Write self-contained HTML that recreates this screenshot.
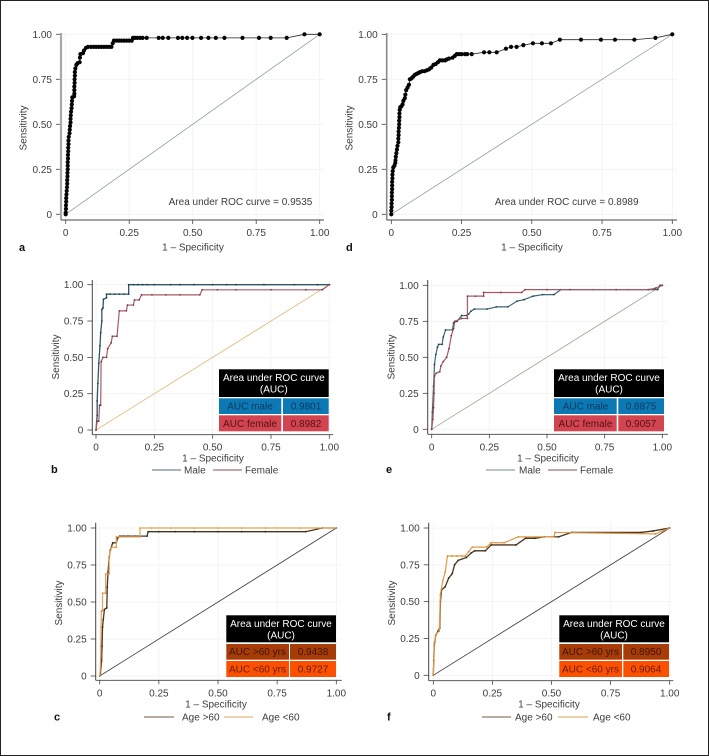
<!DOCTYPE html>
<html lang="en">
<head>
<meta charset="utf-8">
<title>ROC curves</title>
<style>
html,body{margin:0;padding:0;background:#fff;}
svg{display:block;}
text{font-family:"Liberation Sans",Arial,sans-serif;font-size:10px;fill:#3d3d3d;}
.letter{font-weight:bold;font-size:11px;fill:#111;}
.head{fill:#fff;text-anchor:middle;}
.cell{text-anchor:middle;}
.mid{text-anchor:middle;}
</style>
</head>
<body>
<svg id="figure" width="709" height="756" viewBox="0 0 709 756" xmlns="http://www.w3.org/2000/svg">
<rect x="0.5" y="0.5" width="708" height="755" fill="#fff" stroke="#222" stroke-width="1"/>

<g id="panel-a">
  <text class="mid" transform="translate(26.5,128) rotate(-90)">Sensitivity</text>
  <text class="mid" x="193" y="250.5">1 – Specificity</text>
  <text class="mid" x="240.5" y="205">Area under ROC curve = 0.9535</text>
  <text class="letter" x="19" y="251">a</text>
</g>
<g id="panel-d">
  <text class="mid" transform="translate(352.5,128) rotate(-90)">Sensitivity</text>
  <text class="mid" x="532" y="250.5">1 – Specificity</text>
  <text class="mid" x="566.7" y="205">Area under ROC curve = 0.8989</text>
  <text class="letter" x="346" y="251">d</text>
</g>

<g id="panel-b">
  <text class="mid" transform="translate(59,357) rotate(-90)">Sensitivity</text>
  <text class="mid" x="213" y="461.5">1 – Specificity</text>
  <text class="letter" x="51" y="473">b</text>
  <line x1="152" y1="470" x2="181" y2="470" stroke="#4d6b78" stroke-width="0.9"/>
  <text x="184" y="473.5">Male</text>
  <line x1="213" y1="470" x2="242" y2="470" stroke="#8a5058" stroke-width="0.9"/>
  <text x="245" y="473.5">Female</text>
  <g>
    <rect x="219" y="369.3" width="109.7" height="27.7" fill="#000"/>
    <rect x="219" y="398.3" width="62.3" height="15.7" fill="#0c78b4"/>
    <rect x="283" y="398.3" width="45.7" height="15.7" fill="#0c78b4"/>
    <rect x="219" y="415.3" width="62.3" height="16" fill="#d2444f"/>
    <rect x="283" y="415.3" width="45.7" height="16" fill="#d2444f"/>
    <text class="head" x="273.8" y="381">Area under ROC curve</text>
    <text class="head" x="273.8" y="392.5">(AUC)</text>
    <text class="cell" x="250" y="409.5" style="fill:#0b3a5c">AUC male</text>
    <text class="cell" x="306" y="409.5" style="fill:#0b3a5c">0.9801</text>
    <text class="cell" x="250" y="427" style="fill:#551219">AUC female</text>
    <text class="cell" x="306" y="427" style="fill:#551219">0.8982</text>
  </g>
</g>

<g id="panel-e">
  <text class="mid" transform="translate(394.5,357) rotate(-90)">Sensitivity</text>
  <text class="mid" x="548" y="461.5">1 – Specificity</text>
  <text class="letter" x="386" y="473">e</text>
  <line x1="486" y1="470" x2="515" y2="470" stroke="#7c8a88" stroke-width="0.9"/>
  <text x="519" y="473.5">Male</text>
  <line x1="548" y1="470" x2="577" y2="470" stroke="#8a5058" stroke-width="0.9"/>
  <text x="580" y="473.5">Female</text>
  <g>
    <rect x="554" y="369.3" width="110" height="27.7" fill="#000"/>
    <rect x="554" y="398.3" width="62.7" height="15.7" fill="#0c78b4"/>
    <rect x="618.3" y="398.3" width="45.7" height="15.7" fill="#0c78b4"/>
    <rect x="554" y="415.3" width="62.7" height="16" fill="#d2444f"/>
    <rect x="618.3" y="415.3" width="45.7" height="16" fill="#d2444f"/>
    <text class="head" x="609" y="381">Area under ROC curve</text>
    <text class="head" x="609" y="392.5">(AUC)</text>
    <text class="cell" x="585.5" y="409.5" style="fill:#0b3a5c">AUC male</text>
    <text class="cell" x="641" y="409.5" style="fill:#0b3a5c">0.8875</text>
    <text class="cell" x="585.5" y="427" style="fill:#551219">AUC female</text>
    <text class="cell" x="641" y="427" style="fill:#551219">0.9057</text>
  </g>
</g>

<g id="panel-c">
  <text class="mid" transform="translate(62,603) rotate(-90)">Sensitivity</text>
  <text class="mid" x="216" y="707.5">1 – Specificity</text>
  <text class="letter" x="54" y="720.5">c</text>
  <line x1="144" y1="717" x2="174" y2="717" stroke="#6b5a48" stroke-width="0.9"/>
  <text x="182" y="720.5">Age &gt;60</text>
  <line x1="224" y1="717" x2="253" y2="717" stroke="#d9a860" stroke-width="0.9"/>
  <text x="262" y="720.5">Age &lt;60</text>
  <g>
    <rect x="226.3" y="615.3" width="109.7" height="27" fill="#000"/>
    <rect x="226.3" y="644" width="62.7" height="15.7" fill="#a83c08"/>
    <rect x="290" y="644" width="46" height="15.7" fill="#a83c08"/>
    <rect x="226.3" y="661" width="62.7" height="16" fill="#fb5000"/>
    <rect x="290" y="661" width="46" height="16" fill="#fb5000"/>
    <text class="head" x="281" y="627">Area under ROC curve</text>
    <text class="head" x="281" y="638.5">(AUC)</text>
    <text class="cell" x="257.5" y="655" style="fill:#3f1500">AUC &gt;60 yrs</text>
    <text class="cell" x="313" y="655" style="fill:#3f1500">0.9438</text>
    <text class="cell" x="257.5" y="672.5" style="fill:#6b1c00">AUC &lt;60 yrs</text>
    <text class="cell" x="313" y="672.5" style="fill:#6b1c00">0.9727</text>
  </g>
</g>

<g id="panel-f">
  <text class="mid" transform="translate(395,603) rotate(-90)">Sensitivity</text>
  <text class="mid" x="549" y="707.5">1 – Specificity</text>
  <text class="letter" x="387" y="720.5">f</text>
  <line x1="482" y1="717" x2="511" y2="717" stroke="#6b5a48" stroke-width="0.9"/>
  <text x="515" y="720.5">Age &gt;60</text>
  <line x1="558" y1="717" x2="588" y2="717" stroke="#d9a050" stroke-width="0.9"/>
  <text x="593" y="720.5">Age &lt;60</text>
  <g>
    <rect x="559.3" y="615.3" width="109.7" height="27" fill="#000"/>
    <rect x="559.3" y="644" width="62.7" height="15.7" fill="#a83c08"/>
    <rect x="623.3" y="644" width="45.7" height="15.7" fill="#a83c08"/>
    <rect x="559.3" y="661" width="62.7" height="16" fill="#fb5000"/>
    <rect x="623.3" y="661" width="45.7" height="16" fill="#fb5000"/>
    <text class="head" x="614" y="627">Area under ROC curve</text>
    <text class="head" x="614" y="638.5">(AUC)</text>
    <text class="cell" x="590.5" y="655" style="fill:#3f1500">AUC &gt;60 yrs</text>
    <text class="cell" x="646" y="655" style="fill:#3f1500">0.8950</text>
    <text class="cell" x="590.5" y="672.5" style="fill:#6b1c00">AUC &lt;60 yrs</text>
    <text class="cell" x="646" y="672.5" style="fill:#6b1c00">0.9064</text>
  </g>
</g>
</svg>

<script>
const tickValues = [0, 0.25, 0.5, 0.75, 1];
const tickLabels = ['0', '0.25', '0.50', '0.75', '1.00'];

const allFpr = [0,0,.001,.001,.002,.002,.003,.004,.005,.006,.006,.007,.007,.008,.008,.008,.009,.009,.010,.010,.011,.011,.012,.015,.016,.017,.019,.019,.020,.021,.023,.024,.025,.026,.033,.034,.034,.034,.035,.035,.036,.036,.038,.042,.047,.055,.056,.058,.068,.072,.080,.088,.10,.11,.12,.13,.14,.15,.16,.17,.18,.185,.19,.20,.21,.22,.23,.24,.25,.26,.265,.273,.282,.293,.303,.319,.366,.382,.404,.442,.459,.478,.499,.533,.562,.591,.625,.696,.761,.807,.870,.94,1];
const allTpr = [0,.01,.03,.05,.07,.09,.11,.13,.15,.17,.19,.21,.23,.25,.27,.29,.31,.33,.35,.37,.39,.41,.43,.45,.47,.49,.51,.53,.55,.57,.59,.61,.63,.65,.655,.67,.69,.71,.73,.75,.77,.79,.81,.83,.84,.845,.87,.89,.895,.91,.925,.93,.93,.93,.93,.93,.93,.93,.93,.93,.93,.95,.965,.965,.965,.965,.965,.965,.965,.965,.98,.98,.98,.98,.98,.98,.98,.98,.98,.98,.98,.98,.98,.98,.98,.98,.98,.98,.98,.98,.98,1,1];

const allAgeFpr = [0,0,.001,.001,.002,.002,.002,.003,.003,.003,.004,.004,.005,.007,.011,.014,.015,.016,.018,.020,.022,.025,.025,.026,.026,.027,.028,.028,.029,.029,.030,.032,.036,.040,.043,.048,.050,.053,.058,.063,.066,.072,.078,.084,.090,.096,.102,.110,.118,.126,.134,.142,.150,.158,.166,.173,.182,.191,.197,.205,.218,.226,.233,.241,.25,.262,.27,.286,.33,.349,.375,.408,.426,.446,.47,.504,.536,.568,.60,.675,.746,.796,.865,.94,1];
const allAgeTpr = [0,.02,.04,.06,.08,.10,.12,.14,.16,.18,.20,.22,.24,.26,.27,.285,.30,.32,.34,.36,.38,.40,.42,.44,.46,.48,.50,.52,.54,.56,.58,.595,.60,.61,.63,.645,.665,.69,.705,.72,.75,.755,.765,.775,.78,.785,.79,.795,.795,.80,.805,.815,.83,.835,.845,.855,.855,.855,.86,.865,.87,.88,.89,.89,.89,.89,.89,.89,.90,.90,.90,.92,.93,.93,.94,.95,.95,.95,.97,.97,.97,.97,.97,.98,1];

const bMaleFpr = [0,.005,.005,.008,.012,.017,.02,.025,.025,.03,.032,.045,.045,.06,.08,.10,.12,.14,.14,.16,.18,.20,.22,.25,.32,.36,.42,.50,.56,.60,.72,.85,.95,1];
const bMaleTpr = [0,.10,.20,.32,.46,.58,.67,.75,.83,.84,.90,.91,.935,.935,.935,.935,.935,.935,1,1,1,1,1,1,1,1,1,1,1,1,1,1,1,1];
const bFemaleFpr = [0,.005,.012,.015,.02,.022,.03,.045,.05,.065,.07,.09,.10,.13,.135,.16,.165,.185,.195,.24,.30,.36,.445,.455,.52,.60,.75,.90,.97,1];
const bFemaleTpr = [0,.06,.06,.17,.17,.47,.50,.50,.56,.60,.645,.645,.82,.82,.86,.86,.895,.895,.93,.93,.93,.93,.93,.965,.965,.965,.965,.965,.965,1];

const eMaleFpr = [0,.003,.008,.012,.018,.025,.03,.045,.05,.06,.09,.095,.11,.13,.15,.16,.17,.185,.24,.28,.33,.37,.40,.44,.48,.53,.56,.70,.85,.98,.99,1];
const eMaleTpr = [0,.12,.30,.45,.52,.57,.59,.59,.64,.69,.69,.74,.75,.79,.79,.80,.82,.835,.835,.85,.85,.89,.90,.925,.935,.935,.97,.97,.97,.97,1,1];
const eFemaleFpr = [0,.005,.008,.01,.012,.02,.035,.04,.05,.065,.075,.085,.095,.10,.13,.155,.155,.19,.225,.225,.30,.39,.405,.50,.60,.80,.94,.97,1];
const eFemaleTpr = [0,.07,.15,.25,.37,.39,.40,.44,.47,.50,.56,.65,.70,.75,.77,.77,.925,.925,.925,.95,.95,.95,.97,.97,.97,.97,.97,.98,1];

const cOverFpr = [0,.003,.008,.01,.012,.015,.02,.03,.032,.035,.04,.045,.055,.07,.075,.085,.10,.12,.15,.2,.205,.25,.32,.40,.50,.60,.70,.87,.94,1];
const cOverTpr = [0,.02,.10,.20,.33,.38,.45,.46,.60,.70,.80,.85,.90,.90,.93,.945,.945,.945,.945,.945,.975,.975,.975,.975,.975,.975,.975,.975,1,1];
const cUnderFpr = [0,.003,.005,.006,.007,.012,.012,.025,.025,.04,.04,.05,.07,.07,.085,.17,.17,.22,.30,.40,.50,.60,.70,.85,1];
const cUnderTpr = [0,.05,.20,.33,.44,.44,.56,.56,.69,.69,.81,.87,.87,.94,.94,.94,1,1,1,1,1,1,1,1,1];

const fOverFpr = [0,.002,.004,.01,.02,.027,.03,.035,.05,.065,.08,.09,.105,.14,.16,.175,.22,.245,.35,.39,.43,.47,.53,.585,.88,.93,1];
const fOverTpr = [0,.10,.20,.27,.30,.32,.50,.58,.60,.66,.69,.75,.78,.80,.83,.845,.845,.885,.885,.93,.93,.94,.94,.97,.97,.98,1];
const fUnderFpr = [0,.002,.004,.012,.025,.03,.04,.05,.06,.08,.10,.12,.135,.15,.165,.225,.245,.30,.36,.51,.515,.94,.97,1];
const fUnderTpr = [0,.10,.22,.28,.30,.55,.64,.70,.81,.81,.81,.81,.81,.84,.87,.87,.90,.90,.94,.94,.97,.96,.98,1];

const NS = 'http://www.w3.org/2000/svg';

function make(parent, tag, attrs) {
  const el = document.createElementNS(NS, tag);
  for (const key in attrs) el.setAttribute(key, attrs[key]);
  parent.appendChild(el);
  return el;
}

function drawAxes(cfg) {
  const parent = document.getElementById(cfg.id);
  const sx = v => cfg.x0 + v * (cfg.x1 - cfg.x0);
  const sy = v => cfg.y0 + v * (cfg.y1 - cfg.y0);
  const layer = document.createElementNS(NS, 'g');
  
  
  parent.insertBefore(layer, parent.firstChild);

  tickValues.forEach((t, i) => {
    const gx = make(layer, 'line', {x1: sx(t), x2: sx(t), y1: cfg.top, y2: cfg.bottom, stroke: '#f1f3f3', 'stroke-width': 0.8});
    
    
    const gy = make(layer, 'line', {x1: cfg.left, x2: cfg.right, y1: sy(t), y2: sy(t), stroke: '#f1f3f3', 'stroke-width': 0.8});
    
    
    const tx = make(layer, 'line', {x1: sx(t), x2: sx(t), y1: cfg.bottom, y2: cfg.bottom + 4, stroke: '#444', 'stroke-width': 0.8});
    
    
    const ty = make(layer, 'line', {x1: cfg.left - 5, x2: cfg.left, y1: sy(t), y2: sy(t), stroke: '#444', 'stroke-width': 0.8});
    
    
    const lx = make(layer, 'text', {x: sx(t), y: cfg.xLabelY, 'text-anchor': 'middle'});
    
    
    lx.textContent = tickLabels[i];
    const ly = make(layer, 'text', {x: cfg.left - 9, y: sy(t) + 3.5, 'text-anchor': 'end'});
    
    
    ly.textContent = tickLabels[i];
  });

  const sl = make(layer, 'line', {x1: cfg.left, x2: cfg.left, y1: cfg.top, y2: cfg.bottom, stroke: cfg.spine, 'stroke-width': cfg.spineWidth});
  
  
  const sb = make(layer, 'line', {x1: cfg.left, x2: cfg.right, y1: cfg.bottom, y2: cfg.bottom, stroke: '#444', 'stroke-width': 0.9});
  
  
  const diag = make(layer, 'line', {x1: sx(0), y1: sy(0), x2: sx(1), y2: sy(1), stroke: cfg.diag, 'stroke-width': 0.8});
  
  
  return {layer, sx, sy};
}

function drawSeries(axes, name, xs, ys, color, width, markerR, markerColor) {
  const pts = xs.map((v, i) => axes.sx(v).toFixed(2) + ',' + axes.sy(ys[i]).toFixed(2)).join(' ');
  const line = make(axes.layer, 'polyline', {points: pts, fill: 'none', stroke: color, 'stroke-width': width, 'stroke-linejoin': 'round'});
  
  
  xs.forEach((v, i) => {
    const dot = make(axes.layer, 'circle', {cx: axes.sx(v), cy: axes.sy(ys[i]), r: markerR, fill: markerColor});
    
    
  });
}

const axA = drawAxes({id:'panel-a', x0:65.7, x1:319.7, y0:214.3, y1:34.3, left:61, right:324, top:33, bottom:220, xLabelY:236, spine:'#a8a8a8', spineWidth:2.2, diag:'#8fa09c'});
drawSeries(axA, 'all-patients', allFpr, allTpr, '#222', 0.8, 2.1, '#050505');

const axD = drawAxes({id:'panel-d', x0:391.3, x1:672.3, y0:214.3, y1:34.3, left:386.7, right:677, top:33, bottom:220, xLabelY:236, spine:'#8a8a8a', spineWidth:1.6, diag:'#8fa09c'});
drawSeries(axD, 'all-patients', allAgeFpr, allAgeTpr, '#222', 0.8, 2.1, '#050505');

const axB = drawAxes({id:'panel-b', x0:96, x1:329.3, y0:430, y1:284.7, left:92.3, right:333, top:280, bottom:434.7, xLabelY:450.5, spine:'#444', spineWidth:1, diag:'#dcb878'});
drawSeries(axB, 'male', bMaleFpr, bMaleTpr, '#2f5666', 1.3, 0.9, '#1d3f50');
drawSeries(axB, 'female', bFemaleFpr, bFemaleTpr, '#a85a66', 1.2, 0.9, '#7a3844');

const axE = drawAxes({id:'panel-e', x0:431.7, x1:662.3, y0:429.3, y1:285.3, left:427.7, right:668, top:280, bottom:434.3, xLabelY:450.5, spine:'#444', spineWidth:1, diag:'#a3a392'});
drawSeries(axE, 'male', eMaleFpr, eMaleTpr, '#3f6577', 1.2, 0.9, '#1d3f50');
drawSeries(axE, 'female', eFemaleFpr, eFemaleTpr, '#a85a66', 1.2, 0.9, '#7a3844');

const axC = drawAxes({id:'panel-c', x0:99.7, x1:336.3, y0:676, y1:528, left:95.7, right:341.7, top:522.7, bottom:680.3, xLabelY:696.5, spine:'#444', spineWidth:1, diag:'#3a3a3a'});
drawSeries(axC, 'age-over-60', cOverFpr, cOverTpr, '#4a3522', 1.3, 0.9, '#3a2a18');
drawSeries(axC, 'age-under-60', cUnderFpr, cUnderTpr, '#e2a458', 1.2, 0.8, '#d88c30');

const axF = drawAxes({id:'panel-f', x0:433.3, x1:669.7, y0:675.3, y1:528, left:428.7, right:673.3, top:522.7, bottom:680.7, xLabelY:696.5, spine:'#444', spineWidth:1, diag:'#3a3a3a'});
drawSeries(axF, 'age-over-60', fOverFpr, fOverTpr, '#4a3522', 1.3, 0.9, '#3a2a18');
drawSeries(axF, 'age-under-60', fUnderFpr, fUnderTpr, '#e09a48', 1.2, 0.8, '#d88020');
</script>
</body>
</html>
